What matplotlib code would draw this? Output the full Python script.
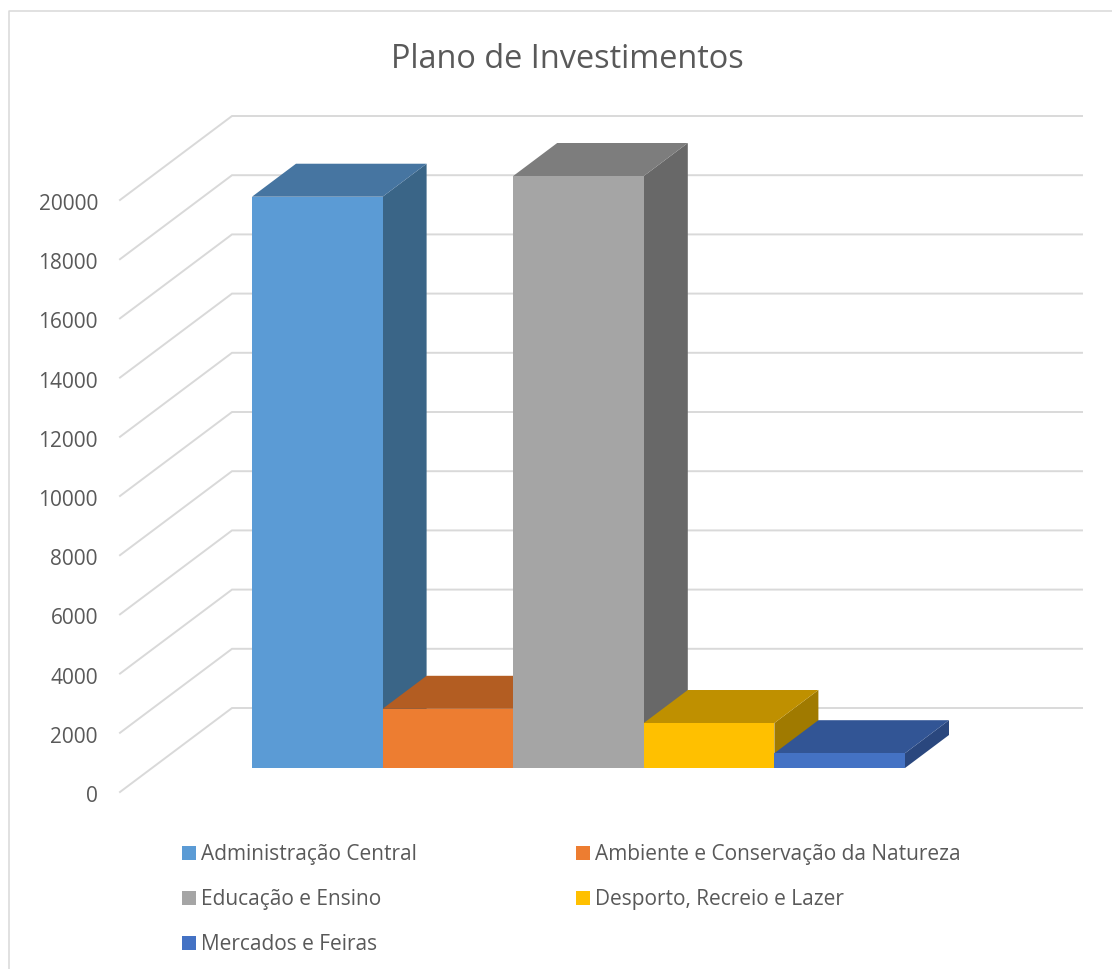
import matplotlib
matplotlib.use("Agg")
import matplotlib.pyplot as plt
from matplotlib.patches import Patch, Polygon

plt.rcParams["font.family"] = ["Open Sans", "DejaVu Sans"]

categories = ["Administração Central", "Ambiente e Conservação da Natureza",
              "Educação e Ensino", "Desporto, Recreio e Lazer", "Mercados e Feiras"]
values = [19300, 2000, 20000, 1520, 500]
front_colors = ["#5B9BD5", "#ED7D31", "#A5A5A5", "#FFC000", "#4472C4"]
top_colors = ["#4675A1", "#B35D22", "#7D7D7D", "#BF9000", "#325595"]
side_colors = ["#3A6587", "#B35D22", "#686868", "#A07A00", "#2A477E"]
grid_values = list(range(0, 22000, 2000))

W, H = 1112, 969
TEXT = "#595959"
GRID = "#D9D9D9"

# figure pixels per category and per unit of value on the plane of the bar fronts
PX_X = 130.6
PX_Y = 592 / 20000
X0, Y0 = 252, 768  # pixel position of the first bar's lower left corner

fig = plt.figure(figsize=(W / 100, H / 100), dpi=100, facecolor="white")
ax = fig.add_axes([0, 0, 1, 1])
ax.set_xlim(-X0 / PX_X, (W - X0) / PX_X)
ax.set_ylim(-(H - Y0) / PX_Y, Y0 / PX_Y)
ax.axis("off")


def dx(px):
    return px / PX_X


def dy(px):
    return px / PX_Y


# chart frame, open towards the right and the bottom
ax.plot([dx(9 - X0), dx(9 - X0), dx(W - X0)],
        [dy(Y0 - H), dy(Y0 - 11), dy(Y0 - 11)], color=GRID, lw=1.1, zorder=1)

# gridlines run over the floor side wall, then along the back wall
for v in grid_values:
    ax.plot([dx(-132), dx(-20), dx(830)],
            [v + dy(-24), v + dy(60), v + dy(60)],
            color=GRID, lw=1.4, solid_joinstyle="miter", zorder=1)

# each column: side and top faces, then the front, so later columns overlap earlier ones
DEPTH_X, DEPTH_Y = dx(44), dy(33)
for i, (v, fc, tc, sc) in enumerate(zip(values, front_colors, top_colors, side_colors)):
    z = 2 + i
    ax.add_patch(Polygon([(i + 1, 0), (i + 1 + DEPTH_X, DEPTH_Y),
                          (i + 1 + DEPTH_X, v + DEPTH_Y), (i + 1, v)],
                         closed=True, fc=sc, ec="none", zorder=z))
    ax.add_patch(Polygon([(i, v), (i + DEPTH_X, v + DEPTH_Y),
                          (i + 1 + DEPTH_X, v + DEPTH_Y), (i + 1, v)],
                         closed=True, fc=tc, ec="none", zorder=z))
    ax.bar(i + 0.5, v, width=1, color=fc, zorder=z + 0.5)

# value labels sit on their own transparent axes, lower than the bar plane
tick_ax = fig.add_axes([98 / W, (H - 794) / H, 0.01, 592 / H])
tick_ax.patch.set_alpha(0)
tick_ax.set_ylim(0, 20000)
tick_ax.set_xticks([])
tick_ax.set_yticks(grid_values)
tick_ax.tick_params(axis="y", length=0, pad=0, labelsize=15, labelcolor=TEXT)
for s in tick_ax.spines.values():
    s.set_visible(False)

fig.text(567 / W, 1 - 60 / H, "Plano de Investimentos", color=TEXT,
         fontsize=23.4, ha="center", va="center")

# column-first legend order gives the two-column layout
order = [0, 2, 4, 1, 3]
handles = [Patch(fc=front_colors[i], ec="none", label=categories[i]) for i in order]
ax.legend(handles=handles, ncols=2, frameon=False, loc="upper left",
          bbox_to_anchor=(182 / W, 1 - 844 / H), borderaxespad=0, borderpad=0,
          fontsize=15, labelcolor=TEXT, handlelength=0.67, handleheight=0.67,
          handletextpad=0.24, labelspacing=1.16, columnspacing=7.62)

fig.savefig("out.png", dpi=100)
plt.close(fig)
